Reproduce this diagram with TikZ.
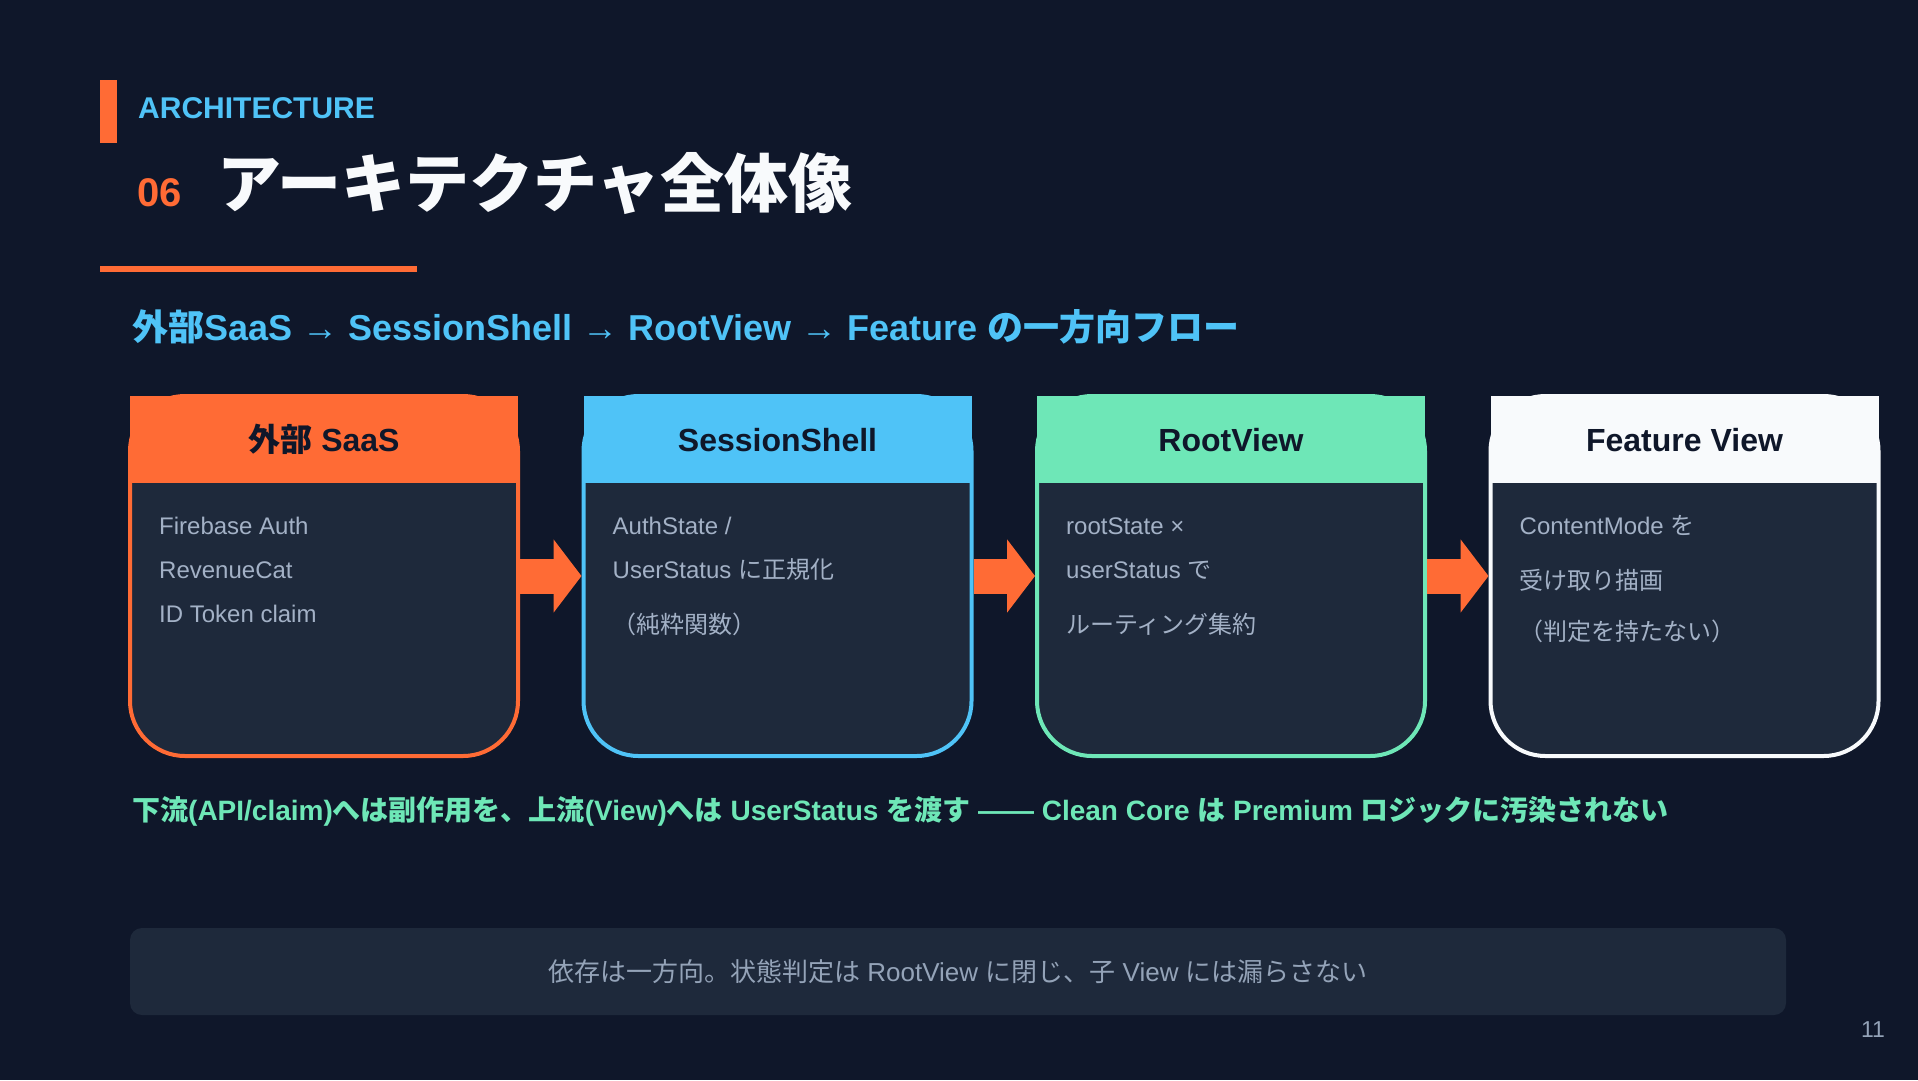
\documentclass[tikz,border=0pt]{standalone}
\usepackage{fontspec}
\setmainfont{Liberation Sans}
\newfontfamily\lat{Liberation Sans}
\newfontfamily\jp{Noto Sans CJK JP}
\usetikzlibrary{arrows.meta}
% automatic switch to the CJK font for Japanese characters
\newXeTeXintercharclass\CJKcls
\newcount\cjkc
\def\setcjkrange#1#2{\cjkc=#1\relax\loop\XeTeXcharclass\cjkc=\CJKcls\relax\advance\cjkc by 1\relax\ifnum\cjkc<#2\relax\repeat}
\setcjkrange{"3000}{"3100}
\setcjkrange{"4E00}{"A000}
\setcjkrange{"FF00}{"FFF0}
\XeTeXinterchartoks 0 \CJKcls = {\jp}
\XeTeXinterchartoks 4095 \CJKcls = {\jp}
\XeTeXinterchartoks \CJKcls 0 = {\lat}
\XeTeXinterchartoks \CJKcls 4095 = {\lat}
\XeTeXinterchartokenstate=1
\definecolor{bg}{HTML}{0F172A}
\definecolor{cardbody}{HTML}{1E293B}
\definecolor{orng}{HTML}{FF6B35}
\definecolor{skyb}{HTML}{4FC3F7}
\definecolor{mint}{HTML}{6EE7B7}
\definecolor{snow}{HTML}{F8FAFC}
\definecolor{ink}{HTML}{0F172A}
\definecolor{bodytext}{HTML}{A3B1C6}
\definecolor{mutetext}{HTML}{94A3B8}
\tikzset{
  card/.style={draw=#1, fill=cardbody, line width=4pt, rounded corners=55pt,
    minimum width=388pt, minimum height=360pt, inner sep=0pt, outer sep=2pt},
  cardtitle/.style={anchor=base, inner sep=0pt, text=ink,
    font=\bfseries\fontsize{32}{38}\selectfont},
  bodyline/.style={anchor=base west, inner sep=0pt, text=bodytext,
    font=\fontsize{24}{29}\selectfont},
  flowarrow/.style={draw=orng, line width=35pt, -{Triangle[length=28pt,width=72pt]}},
}
\begin{document}
\begin{tikzpicture}[x=1pt,y=-1pt]
\path[use as bounding box, fill=bg] (0,0) rectangle (1918,1080);
% header
\fill[orng] (100,80) rectangle (117,143);
\node[anchor=base west, inner sep=0pt, text=skyb, font=\bfseries\fontsize{30}{35}\selectfont] (kicker) at (138,118) {ARCHITECTURE};
\node[anchor=base west, inner sep=0pt, text=orng, font=\bfseries\fontsize{40}{48}\selectfont] (num) at (137,206) {06};
\node[anchor=base west, inner sep=0pt, text=snow, font=\bfseries\fontsize{64}{72}\selectfont] (title) at (217,207) {アーキテクチャ全体像};
\fill[orng] (100,266) rectangle (417,272);
\node[anchor=base west, inner sep=0pt, text=skyb, font=\bfseries\fontsize{36}{42}\selectfont] (sub) at (132,340) {外部SaaS → SessionShell → RootView → Feature の一方向フロー};
% cards
\foreach \i/\L/\acc/\ttl in {1/128/orng/{外部 SaaS}, 2/581.5/skyb/{SessionShell}, 3/1035/mint/{RootView}, 4/1488.5/snow/{Feature View}}{
  \node[card=\acc] (c\i) at ({\L+196},576) {};
  \fill[\acc] ({\L+2},396) rectangle ({\L+390},483);
  \node[cardtitle] (t\i) at ({\L+196},451) {\ttl};
}
% card 1
\node[bodyline] (b11) at (159,534) {Firebase Auth};
\node[bodyline] (b12) at (159,578) {RevenueCat};
\node[bodyline] (b13) at (159,622) {ID Token claim};
% card 2
\node[bodyline] (b21) at (612.5,534) {AuthState /};
\node[bodyline] (b22) at (612.5,578) {UserStatus に正規化};
\node[bodyline] (b23) at (612.5,633) {（純粋関数）};
% card 3
\node[bodyline] (b31) at (1066,534) {rootState ×};
\node[bodyline] (b32) at (1066,578) {userStatus で};
\node[bodyline] (b33) at (1066,633) {ルーティング集約};
% card 4
\node[bodyline] (b41) at (1519.5,534) {ContentMode を};
\node[bodyline] (b42) at (1519.5,589) {受け取り描画};
\node[bodyline] (b43) at (1519.5,640) {（判定を持たない）};
% arrows
\foreach \a/\b in {1/2,2/3,3/4} \draw[flowarrow] (c\a.east) -- (c\b.west);
% green statement
\node[anchor=base west, inner sep=0pt, text=mint, font=\bfseries\fontsize{28}{34}\selectfont] (rule) at (132,820) {下流(API/claim)へは副作用を、上流(View)へは UserStatus を渡す —— Clean Core は Premium ロジックに汚染されない};
% bottom note
\node[fill=cardbody, rounded corners=12pt, minimum width=1656pt, minimum height=87pt, inner sep=0pt, text=mutetext, font=\fontsize{26}{31}\selectfont] (note) at (958,971.5) {依存は一方向。状態判定は RootView に閉じ、子 View には漏らさない};
\node[text=mutetext, inner sep=0pt, font=\fontsize{23}{27}\selectfont] (pnum) at (1873,1030) {11};
\end{tikzpicture}
\end{document}
